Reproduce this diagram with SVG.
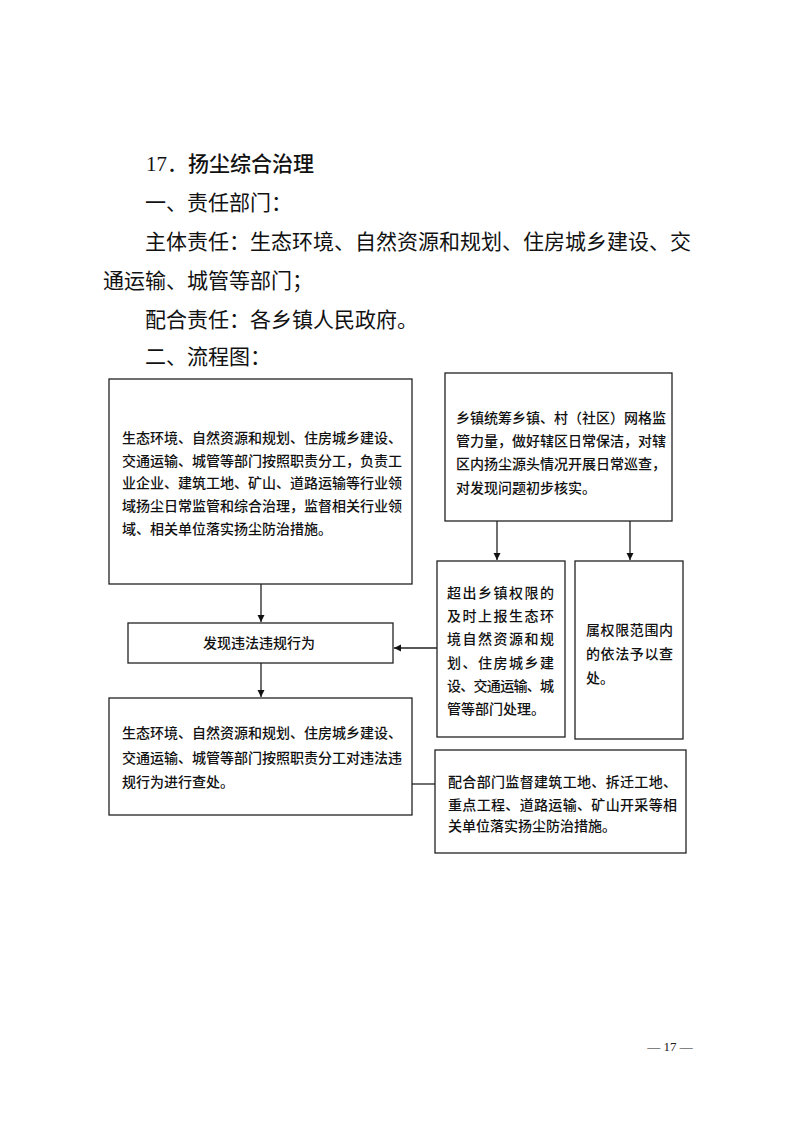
<svg xmlns="http://www.w3.org/2000/svg" width="793" height="1122" viewBox="0 0 793 1122">
<style>
.h{font-family:"Noto Sans CJK SC",sans-serif;font-size:21px;fill:#111}
.b{font-family:"Noto Sans CJK SC",sans-serif;font-size:14px;font-weight:500;fill:#111}
.box{fill:#fff;stroke:#222;stroke-width:1.3}
.ln{fill:none;stroke:#222;stroke-width:1.3}
.pg{font-family:"Liberation Serif",serif;font-size:13px;fill:#222}
</style>
<defs>
<marker id="ah" markerWidth="8" markerHeight="8" refX="7" refY="4" orient="auto" markerUnits="userSpaceOnUse">
<path d="M0,0.5 L7,4 L0,7.5 Z" fill="#111"/>
</marker>
</defs>
<rect width="793" height="1122" fill="#fff"/>
<g id="heading">
<text x="146" y="171" class="h" font-weight="500"><tspan font-family="Liberation Serif" font-weight="normal">17</tspan><tspan font-weight="normal">．</tspan>扬尘综合治理</text>
<text x="145" y="210" class="h">一、责任部门：</text>
<text x="145" y="249" class="h" textLength="546" lengthAdjust="spacing">主体责任：生态环境、自然资源和规划、住房城乡建设、交</text>
<text x="103" y="288" class="h">通运输、城管等部门；</text>
<text x="145" y="327" class="h">配合责任：各乡镇人民政府。</text>
<text x="145" y="364" class="h">二、流程图：</text>
</g>
<g id="connectors">
<line x1="261" y1="584" x2="261" y2="622" class="ln" marker-end="url(#ah)"/>
<line x1="261" y1="663" x2="261" y2="697" class="ln" marker-end="url(#ah)"/>
<line x1="497" y1="521" x2="497" y2="560" class="ln" marker-end="url(#ah)"/>
<line x1="630" y1="521" x2="630" y2="560" class="ln" marker-end="url(#ah)"/>
<line x1="437" y1="648" x2="394" y2="648" class="ln" marker-end="url(#ah)"/>
<line x1="412" y1="784" x2="435" y2="784" class="ln"/>
</g>
<g id="node-main">
<rect x="109" y="379" width="303" height="205" class="box"/>
<text class="b" x="122" y="443" textLength="280" lengthAdjust="spacing">生态环境、自然资源和规划、住房城乡建设、</text>
<text class="b" x="122" y="466" textLength="280" lengthAdjust="spacing">交通运输、城管等部门按照职责分工，负责工</text>
<text class="b" x="122" y="488" textLength="280" lengthAdjust="spacing">业企业、建筑工地、矿山、道路运输等行业领</text>
<text class="b" x="122" y="511" textLength="280" lengthAdjust="spacing">域扬尘日常监管和综合治理，监督相关行业领</text>
<text class="b" x="122" y="534">域、相关单位落实扬尘防治措施。</text>
</g>
<g id="node-found">
<rect x="128" y="623" width="265" height="40" class="box"/>
<text class="b" x="259" y="648" text-anchor="middle">发现违法违规行为</text>
</g>
<g id="node-handle">
<rect x="109" y="698" width="303" height="117" class="box"/>
<text class="b" x="122" y="738" textLength="280" lengthAdjust="spacing">生态环境、自然资源和规划、住房城乡建设、</text>
<text class="b" x="122" y="763" textLength="280" lengthAdjust="spacing">交通运输、城管等部门按照职责分工对违法违</text>
<text class="b" x="122" y="787">规行为进行查处。</text>
</g>
<g id="node-town">
<rect x="445" y="373" width="227" height="148" class="box"/>
<text class="b" x="456" y="423" textLength="210" lengthAdjust="spacing">乡镇统筹乡镇、村（社区）网格监</text>
<text class="b" x="456" y="446" textLength="210" lengthAdjust="spacing">管力量，做好辖区日常保洁，对辖</text>
<text class="b" x="456" y="469" textLength="210" lengthAdjust="spacing">区内扬尘源头情况开展日常巡查，</text>
<text class="b" x="456" y="493">对发现问题初步核实。</text>
</g>
<g id="node-report">
<rect x="437" y="561" width="128" height="176" class="box"/>
<text class="b" x="447" y="598" textLength="107" lengthAdjust="spacing">超出乡镇权限的</text>
<text class="b" x="447" y="621" textLength="107" lengthAdjust="spacing">及时上报生态环</text>
<text class="b" x="447" y="644" textLength="107" lengthAdjust="spacing">境自然资源和规</text>
<text class="b" x="447" y="668" textLength="107" lengthAdjust="spacing">划、住房城乡建</text>
<text class="b" x="447" y="691" textLength="107" lengthAdjust="spacing">设、交通运输、城</text>
<text class="b" x="447" y="714">管等部门处理。</text>
</g>
<g id="node-within">
<rect x="575" y="561" width="108" height="178" class="box"/>
<text class="b" x="586" y="635" textLength="87" lengthAdjust="spacing">属权限范围内</text>
<text class="b" x="586" y="659" textLength="87" lengthAdjust="spacing">的依法予以查</text>
<text class="b" x="586" y="683">处。</text>
</g>
<g id="node-assist">
<rect x="435" y="750" width="251" height="103" class="box"/>
<text class="b" x="448" y="787" textLength="229" lengthAdjust="spacing">配合部门监督建筑工地、拆迁工地、</text>
<text class="b" x="448" y="810" textLength="229" lengthAdjust="spacing">重点工程、道路运输、矿山开采等相</text>
<text class="b" x="448" y="831">关单位落实扬尘防治措施。</text>
</g>
<text class="pg" x="670" y="1051" text-anchor="middle">— 17 —</text>
</svg>
